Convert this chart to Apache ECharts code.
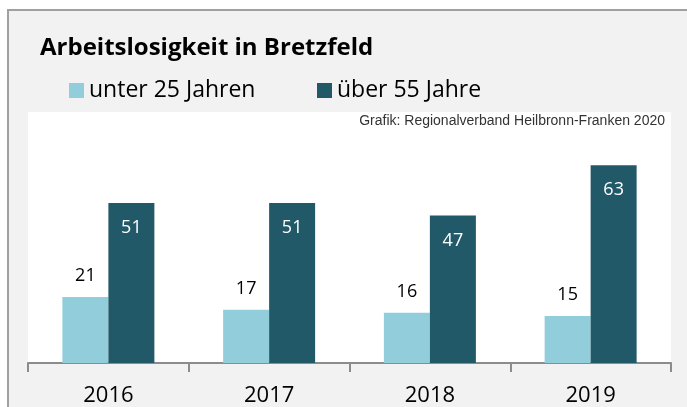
<!DOCTYPE html>
<html>
<head>
<meta charset="utf-8">
<script src="https://cdn.jsdelivr.net/npm/echarts@6/dist/echarts.min.js"></script>
<style>
  html, body { margin: 0; padding: 0; background: #fff; }
  #chart { width: 687px; height: 407px; }
</style>
</head>
<body>
<div id="chart"></div>
<script>
// data
var years = ["2016", "2017", "2018", "2019"];
var unter25 = [21, 17, 16, 15];
var ueber55 = [51, 51, 47, 63];
var seriesNames = ["unter 25 Jahren", "über 55 Jahre"];

var font = "'Open Sans', 'Noto Sans', sans-serif";

var chart = echarts.init(document.getElementById("chart"));
chart.setOption({
  backgroundColor: "#ffffff",
  animation: false,
  // grauer Rahmen hinter allem
  graphic: [
    {
      type: "rect",
      z: -10,
      shape: { x: 8, y: 10, width: 700, height: 420 },
      style: { fill: "#f2f2f2", stroke: "#a0a0a0", lineWidth: 2 }
    },
    {
      type: "text",
      right: 22,
      top: 114,
      style: {
        text: "Grafik: Regionalverband Heilbronn-Franken 2020",
        fill: "#333333",
        font: "14px 'Liberation Sans', Arial, sans-serif"
      }
    }
  ],
  title: {
    text: "Arbeitslosigkeit in Bretzfeld",
    left: 35,
    top: 31,
    textStyle: { color: "#000", fontSize: 24, fontWeight: "bold", fontFamily: font }
  },
  legend: [
    {
      data: [seriesNames[0]],
      left: 64,
      top: 74,
      icon: "rect",
      itemWidth: 15,
      itemHeight: 15,
      textStyle: { color: "#000", fontSize: 23, fontFamily: font }
    },
    {
      data: [seriesNames[1]],
      left: 312,
      top: 74,
      icon: "rect",
      itemWidth: 15,
      itemHeight: 15,
      textStyle: { color: "#000", fontSize: 23, fontFamily: font }
    }
  ],
  grid: {
    left: 28,
    right: 16,
    top: 112,
    bottom: 42,
    show: true,
    backgroundColor: "#ffffff",
    borderWidth: 0
  },
  xAxis: {
    type: "category",
    data: years,
    axisLine: { lineStyle: { color: "#8c8c8c", width: 2 } },
    axisTick: { show: true, alignWithLabel: false, length: 9, lineStyle: { color: "#8c8c8c", width: 2 } },
    axisLabel: { color: "#000", fontSize: 22, margin: 22, fontFamily: font }
  },
  yAxis: {
    type: "value",
    min: 0,
    max: 80,
    show: false,
    splitLine: { show: false }
  },
  series: [
    {
      name: seriesNames[0],
      type: "bar",
      data: unter25,
      barWidth: 46,
      barGap: "0%",
      itemStyle: { color: "#92cddc" },
      label: {
        show: true,
        position: "top",
        distance: 12,
        color: "#000",
        fontSize: 18,
        fontFamily: font
      }
    },
    {
      name: seriesNames[1],
      type: "bar",
      data: ueber55,
      barWidth: 46,
      barGap: "0%",
      itemStyle: { color: "#215968" },
      label: {
        show: true,
        position: "insideTop",
        distance: 16,
        color: "#fff",
        fontSize: 18,
        fontFamily: font
      }
    }
  ]
});
</script>
</body>
</html>
